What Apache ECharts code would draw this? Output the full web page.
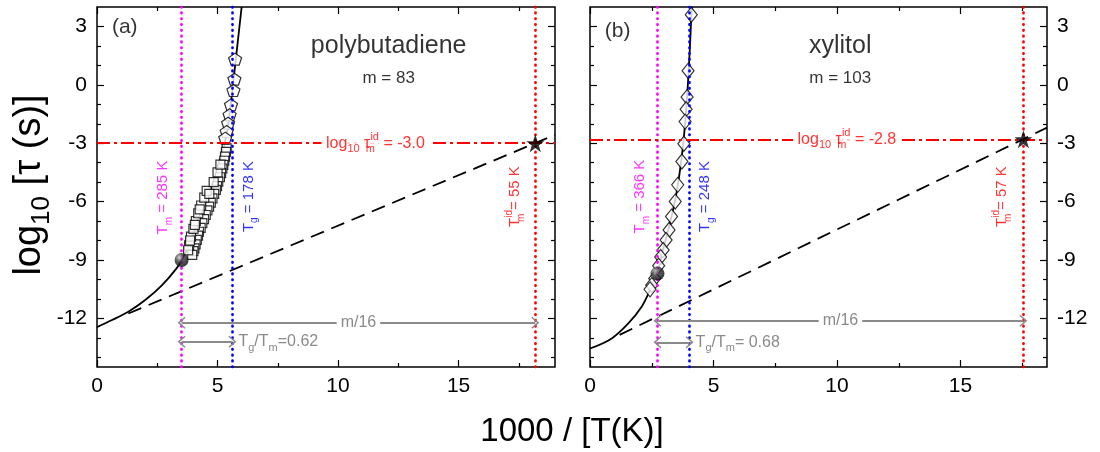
<!DOCTYPE html>
<html>
<head>
<meta charset="utf-8">
<script src="https://cdn.jsdelivr.net/npm/echarts@6/dist/echarts.min.js"></script>
<style>
  html, body { margin: 0; padding: 0; background: #fff; }
  #chart { width: 1100px; height: 452px; }
</style>
</head>
<body>
<div id="chart"></div>
<script>
// ---------- panel (a): polybutadiene ----------
const nameA = 'polybutadiene';
const fragA = 83;                 // fragility m
const tmA = 285, tgA = 178, tmIdA = 55;   // K
const logTauIdA = -3.0;
const curveA = [[0, -12.45], [0.6, -12.1], [1.3, -11.66], [2.0, -11.06], [2.7, -10.29], [3.3, -9.43],
  [3.51, -9.0], [3.93, -7.97], [4.34, -6.6], [4.76, -5.23], [5.1, -3.9], [5.3, -3.0], [5.45, -2.0],
  [5.57, -0.77], [5.76, 1.32], [6.0, 4.0]];
const squaresA = [[5.38, -3.26], [5.35, -3.45], [5.31, -3.69], [5.28, -3.9], [5.24, -4.11], [5.2, -4.3],
  [5.15, -4.54], [5.1, -4.75], [5.03, -4.97], [4.98, -5.2], [4.93, -5.4], [4.86, -5.6], [4.79, -5.83],
  [4.72, -6.05], [4.65, -6.26], [4.58, -6.45], [4.51, -6.69], [4.44, -6.9], [4.37, -7.11], [4.3, -7.35],
  [4.23, -7.55], [4.19, -7.75], [4.14, -7.97], [4.09, -8.2], [4.04, -8.4], [4.0, -8.55], [3.95, -8.74],
  [3.82, -8.25], [3.9, -7.8], [4.0, -7.4], [4.1, -7.0], [4.2, -6.6], [4.32, -6.2], [4.45, -5.8], [4.55, -5.45],
  [3.78, -8.5], [3.86, -8.0], [4.06, -7.2], [4.26, -6.4], [4.66, -5.6], [4.84, -5.0], [5.0, -4.5], [5.12, -4.1]];
const pentagonsA = [[5.73, 1.32], [5.7, 0.29], [5.66, -0.29], [5.56, -1.03], [5.5, -1.54], [5.44, -1.97],
  [5.38, -2.4], [5.32, -2.74]];
const ballA = [[1000 / tmA, -9.0]];
const idealA = [[1.3, -11.75], [19, -2.57]];
const arrowYA = { mOver16: -12.23, tgTm: -13.2 };
const ratioA = '0.62';

// ---------- panel (b): xylitol ----------
const nameB = 'xylitol';
const fragB = 103;
const tmB = 366, tgB = 248, tmIdB = 57;
const logTauIdB = -2.8;
const curveB = [[0, -13.55], [0.88, -13.03], [1.55, -12.26], [2.09, -11.4], [2.43, -10.55], [2.72, -9.7],
  [2.95, -8.5], [3.2, -7.3], [3.45, -5.9], [3.62, -4.6], [3.76, -3.2], [3.88, -1.5], [3.99, 0.6], [4.12, 4.0]];
const diamondsB = [[4.1, 3.6], [3.97, 0.72], [3.93, -0.63], [3.89, -1.25], [3.85, -1.89], [3.8, -3.03],
  [3.72, -3.94], [3.55, -5.14], [3.45, -6.0], [3.3, -6.77], [3.2, -7.46], [3.08, -7.97], [2.96, -8.49],
  [2.86, -8.85], [2.78, -9.3], [2.62, -9.95], [2.5, -10.29], [2.43, -10.51]];
const ballB = [[1000 / tmB, -9.7]];
const idealB = [[1.2, -12.85], [18.5, -2.2]];
const arrowYB = { mOver16: -12.12, tgTm: -13.23 };
const ratioB = '0.68';

// ---------- axes ----------
const xMaxA = 19, xMaxB = 18.5;
const yMin = -14.5, yMax = 4;
const xMajor = [0, 5, 10, 15];
const xMinor = [2.5, 7.5, 12.5, 17.5];
const yMajor = [-12, -9, -6, -3, 0, 3];
const yMinor = [-14, -13, -11, -10, -8, -7, -5, -4, -2, -1, 1, 2];

const F = "'Liberation Sans', Arial, sans-serif";
const MAGENTA = '#ff00ff', BLUE = '#0000ff', RED = '#ff0000', GREY = '#8a8a8a';

const SYM_PENTAGON = 'path://M50,0 L97.6,34.5 L79.4,90.5 L20.6,90.5 L2.4,34.5 Z';
const SYM_STAR = 'path://M50,0 L61.8,35.1 L97.6,35.1 L68.8,56.7 L79.4,90.5 L50,69.3 L20.6,90.5 L31.2,56.7 L2.4,35.1 L38.2,35.1 Z';
const SYM_CHEVRON = 'path://M0,10 L10,0 L20,10 L18.4,11.4 L10,3.2 L1.6,11.4 Z';

function rich(color, fs, bg) {
  const L = Math.round(fs * 1.45);
  const s = Math.round(fs * 0.68);
  const b = bg ? { backgroundColor: bg } : {};
  return {
    n:   Object.assign({ fontSize: fs, color, fontFamily: F, lineHeight: L }, b),
    sb:  Object.assign({ fontSize: s, color, fontFamily: F, lineHeight: s, verticalAlign: 'bottom' }, b),
    sbz: Object.assign({ fontSize: s, color, fontFamily: F, lineHeight: s, verticalAlign: 'bottom', width: 0 }, b),
    sp:  Object.assign({ fontSize: s, color, fontFamily: F, lineHeight: s, verticalAlign: 'top' }, b)
  };
}

const tickLine = { color: '#000', width: 1.2 };
function xAxesFor(g, xMax) {
  const base = { gridIndex: g, type: 'value', min: 0, max: xMax, splitLine: { show: false },
    axisLine: { show: false, onZero: false } };
  return [
    Object.assign({}, base, { position: 'bottom',
      axisTick: { inside: true, length: 7, customValues: xMajor, lineStyle: tickLine },
      axisLabel: { customValues: xMajor, margin: 9, fontSize: 21, color: '#000', fontFamily: F } }),
    Object.assign({}, base, { position: 'bottom',
      axisTick: { inside: true, length: 4, customValues: xMinor, lineStyle: tickLine }, axisLabel: { show: false } }),
    Object.assign({}, base, { position: 'top',
      axisTick: { inside: true, length: 7, customValues: xMajor, lineStyle: tickLine }, axisLabel: { show: false } }),
    Object.assign({}, base, { position: 'top',
      axisTick: { inside: true, length: 4, customValues: xMinor, lineStyle: tickLine }, axisLabel: { show: false } })
  ];
}
function yAxesFor(g, labelSide) {
  const other = labelSide === 'left' ? 'right' : 'left';
  const base = { gridIndex: g, type: 'value', min: yMin, max: yMax, splitLine: { show: false },
    axisLine: { show: false, onZero: false } };
  return [
    Object.assign({}, base, { position: labelSide,
      axisTick: { inside: true, length: 7, customValues: yMajor, lineStyle: tickLine },
      axisLabel: { customValues: yMajor, margin: 10, fontSize: 21, color: '#000', fontFamily: F } }),
    Object.assign({}, base, { position: labelSide,
      axisTick: { inside: true, length: 4, customValues: yMinor, lineStyle: tickLine }, axisLabel: { show: false } }),
    Object.assign({}, base, { position: other,
      axisTick: { inside: true, length: 7, customValues: yMajor, lineStyle: tickLine }, axisLabel: { show: false } }),
    Object.assign({}, base, { position: other,
      axisTick: { inside: true, length: 4, customValues: yMinor, lineStyle: tickLine }, axisLabel: { show: false } })
  ];
}

// ---------- series per panel ----------
function panelSeries(p) {
  const ax = { xAxisIndex: p.axis, yAxisIndex: p.axis };
  const xTm = 1000 / p.tm, xTg = 1000 / p.tg, xTmId = 1000 / p.tmId;
  const dotted = (c) => ({ color: c, width: 2.7, type: [0.5, 5.3], cap: 'round' });
  const s = [];
  // VFT fit through the data
  s.push(Object.assign({ type: 'line', data: p.curve, smooth: 0.35, showSymbol: false, silent: true,
    lineStyle: { color: '#000', width: 1.8 }, z: 3 }, ax));
  // ideal (Arrhenius-like) line
  s.push(Object.assign({ type: 'line', data: p.ideal, showSymbol: false, silent: true,
    lineStyle: { color: '#000', width: 1.8, type: [14, 8] }, z: 3 }, ax));
  // experimental relaxation times
  p.markers.forEach(m => {
    s.push(Object.assign({ type: 'scatter', data: m.data, symbol: m.symbol, symbolSize: m.size, silent: true,
      itemStyle: { color: '#fff', borderColor: '#000', borderWidth: 1.2 }, z: 4 }, ax));
  });
  // reference lines and arrows
  const arrowLabel = { show: true, color: GREY, fontFamily: F, fontSize: 16 };
  s.push(Object.assign({ type: 'line', data: [], silent: true, z: 5,
    markLine: {
      silent: true, symbol: ['none', 'none'], animation: false,
      label: { show: false },
      data: [
        { xAxis: xTm, lineStyle: dotted(MAGENTA) },
        { xAxis: xTg, lineStyle: dotted(BLUE) },
        { xAxis: xTmId, lineStyle: dotted(RED) },
        { yAxis: p.logTauId, lineStyle: { color: RED, width: 2, type: [13, 4, 3, 4] } },
        [
          { coord: [xTm, p.arrowY.mOver16], symbol: SYM_CHEVRON, symbolSize: [12, 8] },
          { coord: [xTmId, p.arrowY.mOver16], symbol: SYM_CHEVRON, symbolSize: [12, 8],
            lineStyle: { color: GREY, width: 1.8, type: 'solid' },
            label: Object.assign({}, arrowLabel, { position: 'insideMiddle', formatter: 'm/16',
              backgroundColor: '#fff', padding: [0, 4] }) }
        ],
        [
          { coord: [xTm, p.arrowY.tgTm], symbol: SYM_CHEVRON, symbolSize: [12, 8] },
          { coord: [xTg, p.arrowY.tgTm], symbol: SYM_CHEVRON, symbolSize: [12, 8],
            lineStyle: { color: GREY, width: 1.8, type: 'solid' },
            label: Object.assign({}, arrowLabel, { position: 'end', distance: 6,
              formatter: '{n|T}{sb|g}{n|/T}{sb|m}{n|=' + p.ratio + '}', rich: rich(GREY, 16) }) }
        ]
      ]
    } }, ax));
  // glassy point at Tm and the ideal point
  s.push(Object.assign({ type: 'scatter', data: p.ball, symbol: 'circle', symbolSize: 14, silent: true, z: 6,
    itemStyle: { color: { type: 'radial', x: 0.35, y: 0.32, r: 0.75,
      colorStops: [{ offset: 0, color: '#cfcfcf' }, { offset: 0.4, color: '#3a3a3a' }, { offset: 1, color: '#000' }] } } }, ax));
  s.push(Object.assign({ type: 'scatter', data: [[xTmId, p.logTauId]], symbol: SYM_STAR, symbolSize: 18,
    silent: true, z: 6, itemStyle: { color: '#000' } }, ax));
  // annotations
  s.push(Object.assign({ type: 'scatter', symbolSize: 1, silent: true, z: 8,
    itemStyle: { color: 'rgba(0,0,0,0)' },
    label: { show: true, position: 'inside' },
    data: p.texts.map(t => ({ value: [t.x, t.y],
      label: Object.assign({ formatter: t.text, rotate: t.rot || 0, rich: t.rich }, t.extra || {}) }))
  }, ax));
  return s;
}

function texts(name, m, tm, tg, tmId, logTauId, pos) {
  return [
    { x: pos.tag[0], y: pos.tag[1], text: '{n|' + pos.tagText + '}', rich: rich('#000', 21) },
    { x: pos.name[0], y: pos.name[1], text: '{n|' + name + '}', rich: rich('#000', 25) },
    { x: pos.m[0], y: pos.m[1], text: '{n|m = ' + m + '}', rich: rich('#000', 17) },
    { x: pos.tm[0], y: pos.tm[1], rot: 90, text: '{n|T}{sb|m}{n| = ' + tm + ' K}', rich: rich(MAGENTA, 15) },
    { x: pos.tg[0], y: pos.tg[1], rot: 90, text: '{n|T}{sb|g}{n| = ' + tg + ' K}', rich: rich(BLUE, 15) },
    { x: pos.tmId[0], y: pos.tmId[1], rot: 90, text: '{n|T}{sbz|m}{sp|id}{n|= ' + tmId + ' K}', rich: rich(RED, 15) },
    { x: pos.log[0], y: logTauId, rich: rich(RED, 16, '#fff'),
      text: '{n| log}{sb|10}{n| τ}{sbz|m}{sp|id}{n| = ' + logTauId.toFixed(1) + ' }',
      extra: { backgroundColor: '#fff' } }
  ];
}

const panelA = {
  axis: 0, tm: tmA, tg: tgA, tmId: tmIdA, logTauId: logTauIdA, curve: curveA, ideal: idealA,
  ball: ballA, arrowY: arrowYA, ratio: ratioA,
  markers: [{ data: squaresA, symbol: 'rect', size: 9 }, { data: pentagonsA, symbol: SYM_PENTAGON, size: [13, 12] }],
  texts: texts(nameA, fragA, tmA, tgA, tmIdA, logTauIdA,
    { tagText: '(a)', tag: [1.15, 2.98], name: [12.1, 1.97], m: [12.1, 0.31], tm: [2.75, -5.79],
      tg: [6.28, -5.74], tmId: [17.34, -5.74], log: [11.55] })
};
const panelB = {
  axis: 4, tm: tmB, tg: tgB, tmId: tmIdB, logTauId: logTauIdB, curve: curveB, ideal: idealB,
  ball: ballB, arrowY: arrowYB, ratio: ' ' + ratioB,
  markers: [{ data: diamondsB, symbol: 'diamond', size: [12, 15] }],
  texts: texts(nameB, fragB, tmB, tgB, tmIdB, logTauIdB,
    { tagText: '(b)', tag: [1.12, 2.78], name: [10.13, 1.97], m: [10.13, 0.31], tm: [2.03, -5.74],
      tg: [4.66, -5.74], tmId: [16.69, -5.74], log: [10.4] })
};

const chart = echarts.init(document.getElementById('chart'), null, { renderer: 'canvas' });
chart.setOption({
  animation: false,
  backgroundColor: '#fff',
  grid: [
    { left: 97, top: 7, width: 458, height: 360, show: true, borderColor: '#000', borderWidth: 1.5, containLabel: false },
    { left: 590, top: 7, width: 457, height: 360, show: true, borderColor: '#000', borderWidth: 1.5, containLabel: false }
  ],
  xAxis: xAxesFor(0, xMaxA).concat(xAxesFor(1, xMaxB)),
  yAxis: yAxesFor(0, 'left').concat(yAxesFor(1, 'right')),
  series: panelSeries(panelA).concat(panelSeries(panelB)),
  graphic: [
    { type: 'text', x: 30, y: 185, rotation: Math.PI / 2, silent: true,
      style: { text: '{n|log}{sb|10}{n| [τ (s)]}', align: 'center', verticalAlign: 'middle',
        textAlign: 'center', textVerticalAlign: 'middle',
        rich: {
          n: { fontSize: 38, fontFamily: F, fill: '#000', color: '#000', lineHeight: 50 },
          sb: { fontSize: 26, fontFamily: F, fill: '#000', color: '#000', lineHeight: 26, verticalAlign: 'bottom' }
        } } },
    { type: 'text', x: 572, y: 432, silent: true,
      style: { text: '1000 / [T(K)]', font: '33px ' + F, fill: '#000', align: 'center', verticalAlign: 'middle',
        textAlign: 'center', textVerticalAlign: 'middle' } }
  ]
});
</script>
</body>
</html>
